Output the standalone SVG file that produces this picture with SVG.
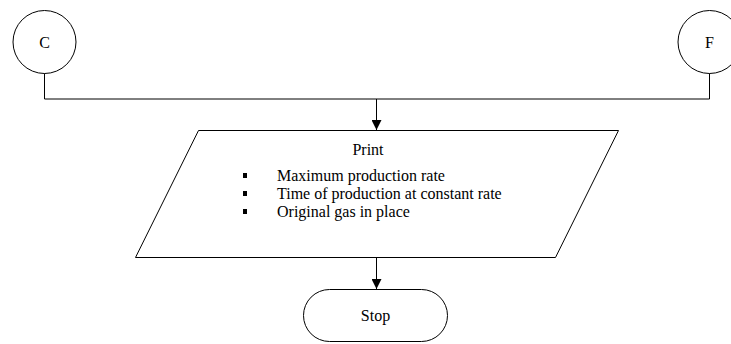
<svg xmlns="http://www.w3.org/2000/svg" width="731" height="344" viewBox="0 0 731 344">
<style>
.s{fill:#fff;stroke:#000;stroke-width:1}
.t{font-family:"Liberation Serif","Times New Roman",serif;font-size:16px;fill:#000}
.c{fill:none;stroke:#000;stroke-width:1}
</style>
<defs>
<marker id="a" markerWidth="10" markerHeight="10" refX="10" refY="5" orient="auto" markerUnits="userSpaceOnUse">
<path d="M0,0 L10,5 L0,10 z" fill="#000"/>
</marker>
</defs>
<rect width="731" height="344" fill="#fff"/>
<g id="connectors">
<polyline class="c" points="44.5,73 44.5,99 709.5,99 709.5,73"/>
<line class="c" x1="376.5" y1="99" x2="376.5" y2="130" marker-end="url(#a)"/>
<line class="c" x1="376.5" y1="257" x2="376.5" y2="289" marker-end="url(#a)"/>
</g>
<g id="nodeC">
<circle class="s" cx="44.5" cy="42" r="31.5"/>
<text class="t" x="44.5" y="47.5" text-anchor="middle">C</text>
</g>
<g id="nodeF">
<circle class="s" cx="709.5" cy="42" r="31.5"/>
<text class="t" x="709.5" y="47.5" text-anchor="middle">F</text>
</g>
<g id="print">
<polygon class="s" points="198.5,130.5 618.5,130.5 555.5,257.5 135.5,257.5"/>
<text class="t" x="368" y="155" text-anchor="middle">Print</text>
<rect x="243" y="173" width="4" height="5" fill="#000"/>
<rect x="243" y="191" width="4" height="5" fill="#000"/>
<rect x="243" y="209" width="4" height="5" fill="#000"/>
<text class="t" x="277" y="181">Maximum production rate</text>
<text class="t" x="277" y="199">Time of production at constant rate</text>
<text class="t" x="277" y="217">Original gas in place</text>
</g>
<g id="stop">
<rect class="s" x="303.5" y="289.5" width="144" height="52" rx="26" ry="26"/>
<text class="t" x="375.5" y="321" text-anchor="middle">Stop</text>
</g>
</svg>
